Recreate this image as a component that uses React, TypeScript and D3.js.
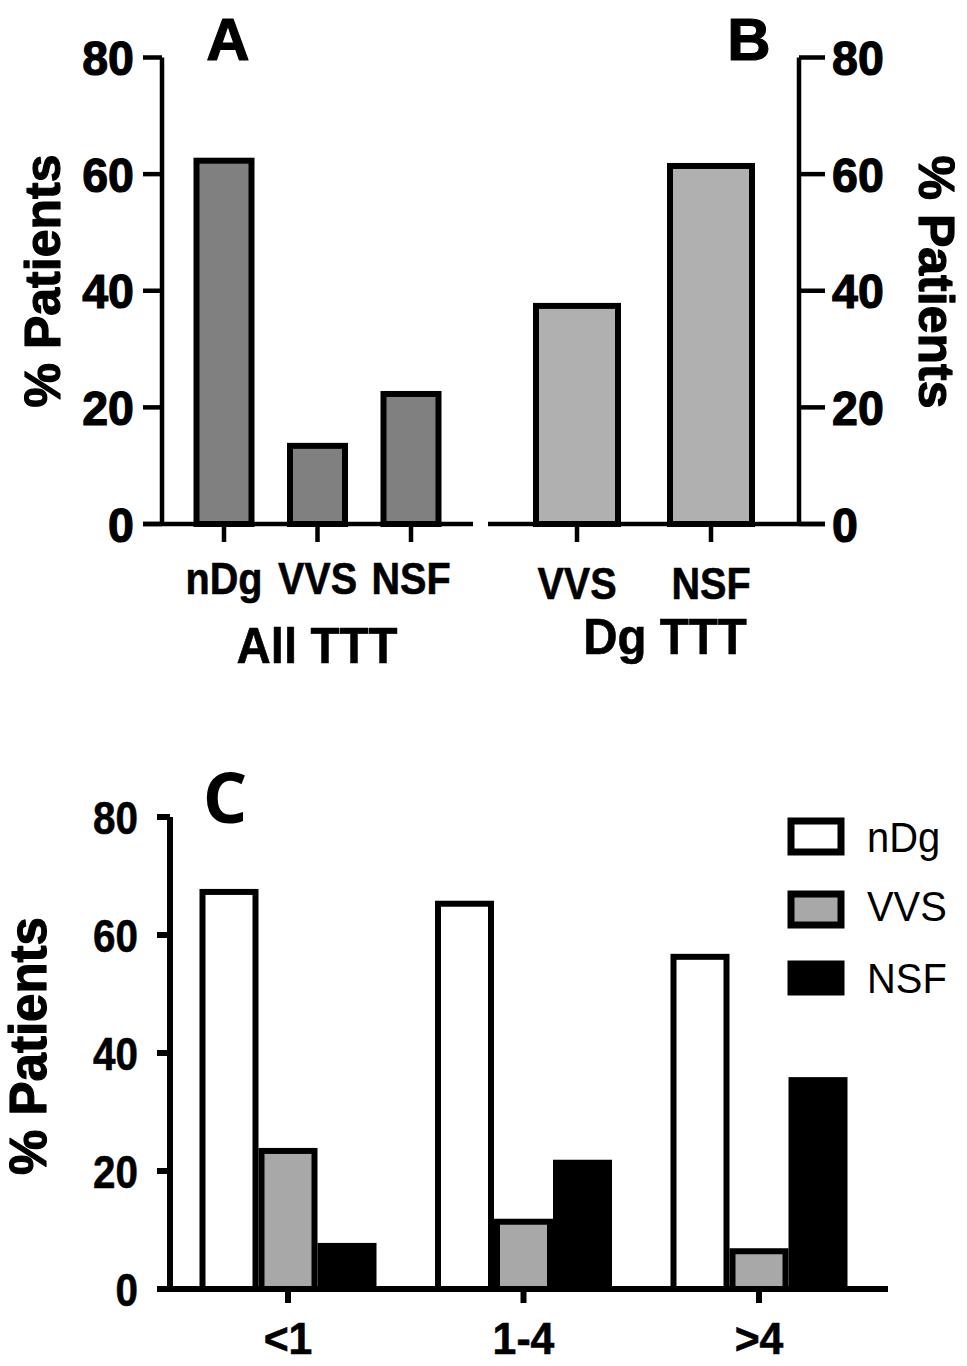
import React from "react";
import * as d3 from "d3";

const yTicks = [0, 20, 40, 60, 80];

const catsA = ["nDg", "VVS", "NSF"];
const valsA = [62.3, 13.4, 22.3];

const catsB = ["VVS", "NSF"];
const valsB = [37.4, 61.4];

const groupsC = ["<1", "1-4", ">4"];
const seriesC = ["nDg", "VVS", "NSF"];
const nDgC = [67.3, 65.3, 56.3];
const vvsC = [23.4, 11.4, 6.4];
const nsfC = [7.3, 21.4, 35.4];

const FONT = "'Liberation Sans', Arial, sans-serif";

function T(props: {
  x: number; y: number; sx?: number; size: number; anchor?: string; bold?: boolean;
  dy?: string; rotate?: number; family?: string; heavy?: number; children: React.ReactNode;
}) {
  const { x, y, sx = 1, size, anchor = "middle", bold = true, dy, rotate = 0, family = FONT, heavy = 0, children } = props;
  return (
    <text
      transform={`translate(${x},${y}) rotate(${rotate}) scale(${sx},1)`}
      textAnchor={anchor}
      dy={dy}
      fontFamily={family}
      fontWeight={bold ? "bold" : "normal"}
      fontSize={size}
      stroke={heavy ? "#000" : "none"}
      strokeWidth={heavy}
      strokeLinejoin="round"
    >
      {children}
    </text>
  );
}

export default function App() {
  // Panel A
  const yA = d3.scaleLinear().domain([0, 80]).range([524, 57.5]);
  const xA = d3.scalePoint<string>().domain(catsA).range([224, 411]);
  const bwA = 55;
  // Panel B
  const xB = d3.scalePoint<string>().domain(catsB).range([577, 711]);
  const bwB = 82;
  // Panel C
  const yC = d3.scaleLinear().domain([0, 80]).range([1289, 817]);
  const xC = d3.scalePoint<string>().domain(groupsC).range([288, 759]);
  const xS = d3.scaleBand<string>().domain(seriesC).range([-88.5, 88.5]).padding(0);
  const dataC = [nDgC, vvsC, nsfC];
  const fillC = ["#ffffff", "#a8a8a8", "#000000"];

  const sw = 6;
  const hv = 1.2;

  return (
    <svg width={967} height={1366} style={{ position: "absolute", left: 0, top: 0, background: "#fff" }}>
      <rect x={0} y={0} width={967} height={1366} fill="#fff" />
      {/* ===== Panel A ===== */}
      <g>
        {catsA.map((c, i) => (
          <rect key={c} x={xA(c)! - bwA / 2} y={yA(valsA[i])} width={bwA} height={yA(0) - yA(valsA[i])}
            fill="#808080" stroke="#000" strokeWidth={sw} />
        ))}
        <line x1={162} x2={162} y1={yA(80)} y2={yA(0) + 2} stroke="#000" strokeWidth={4.5} />
        <line x1={143} x2={473} y1={yA(0)} y2={yA(0)} stroke="#000" strokeWidth={4.5} />
        {yTicks.map((t) => (
          <g key={t}>
            <line x1={143} x2={162} y1={yA(t)} y2={yA(t)} stroke="#000" strokeWidth={4.5} />
            <T x={134} y={yA(t)} dy="0.36em" anchor="end" size={49} sx={0.95} heavy={hv}>{t}</T>
          </g>
        ))}
        {catsA.map((c) => (
          <g key={c}>
            <line x1={xA(c)!} x2={xA(c)!} y1={yA(0)} y2={yA(0) + 18} stroke="#000" strokeWidth={4.5} />
            <T x={xA(c)!} y={594} size={45} sx={0.88} heavy={0.6}>{c}</T>
          </g>
        ))}
        <T x={317} y={663} size={50} sx={0.95} heavy={0.6}>All TTT</T>
        <T x={228} y={60} size={60} heavy={hv}>A</T>
        <T x={60} y={281} rotate={-90} size={50} heavy={hv}>% Patients</T>
      </g>

      {/* ===== Panel B ===== */}
      <g>
        {catsB.map((c, i) => (
          <rect key={c} x={xB(c)! - bwB / 2} y={yA(valsB[i])} width={bwB} height={yA(0) - yA(valsB[i])}
            fill="#b0b0b0" stroke="#000" strokeWidth={sw} />
        ))}
        <line x1={799} x2={799} y1={yA(80)} y2={yA(0) + 2} stroke="#000" strokeWidth={4.5} />
        <line x1={488} x2={825} y1={yA(0)} y2={yA(0)} stroke="#000" strokeWidth={4.5} />
        {yTicks.map((t) => (
          <g key={t}>
            <line x1={799} x2={825} y1={yA(t)} y2={yA(t)} stroke="#000" strokeWidth={4.5} />
            <T x={832} y={yA(t)} dy="0.36em" anchor="start" size={49} sx={0.95} heavy={hv}>{t}</T>
          </g>
        ))}
        {catsB.map((c) => (
          <g key={c}>
            <line x1={xB(c)!} x2={xB(c)!} y1={yA(0)} y2={yA(0) + 18} stroke="#000" strokeWidth={4.5} />
            <T x={xB(c)!} y={599} size={45} sx={0.88} heavy={0.6}>{c}</T>
          </g>
        ))}
        <T x={665} y={654} size={50} sx={0.95} heavy={0.6}>Dg TTT</T>
        <T x={749} y={60} size={60} heavy={hv}>B</T>
        <T x={919} y={282} rotate={90} size={50} heavy={hv}>% Patients</T>
      </g>

      {/* ===== Panel C ===== */}
      <g>
        {groupsC.map((g, gi) => (
          <g key={g}>
            {seriesC.map((s, si) => {
              const v = dataC[si][gi];
              const x0 = xC(g)! + xS(s)!;
              return (
                <rect key={s} x={x0 + sw / 2} y={yC(v)} width={xS.bandwidth() - sw} height={yC(0) - yC(v)}
                  fill={fillC[si]} stroke="#000" strokeWidth={sw} />
              );
            })}
          </g>
        ))}
        <line x1={170} x2={170} y1={yC(80)} y2={yC(0) + 3} stroke="#000" strokeWidth={6} />
        <line x1={157} x2={888} y1={yC(0)} y2={yC(0)} stroke="#000" strokeWidth={6} />
        {yTicks.map((t) => (
          <g key={t}>
            <line x1={157} x2={170} y1={yC(t)} y2={yC(t)} stroke="#000" strokeWidth={6} />
            <T x={138} y={yC(t)} dy="0.36em" anchor="end" size={47} sx={0.86} heavy={0.6}>{t}</T>
          </g>
        ))}
        {groupsC.map((g) => (
          <g key={g}>
            <line x1={xC(g)!} x2={xC(g)!} y1={yC(0)} y2={yC(0) + 14} stroke="#000" strokeWidth={6} />
            <T x={xC(g)!} y={1354} size={45} sx={0.95} heavy={0.6}>{g}</T>
          </g>
        ))}
        <T x={225} y={823} size={70} family="'Open Sans', sans-serif">C</T>
        <T x={46} y={1046} rotate={-90} size={51} heavy={hv}>% Patients</T>
        {/* Legend */}
        {seriesC.map((s, si) => {
          const ly = [818, 891, 961][si];
          return (
            <g key={s}>
              <rect x={788 + 3} y={ly + 3} width={50} height={si === 2 ? 28 : 31}
                fill={fillC[si]} stroke="#000" strokeWidth={7} />
              <T x={867} y={[852, 921, 993][si]} anchor="start" bold={false} size={42} sx={0.95}>{s}</T>
            </g>
          );
        })}
      </g>
    </svg>
  );
}
